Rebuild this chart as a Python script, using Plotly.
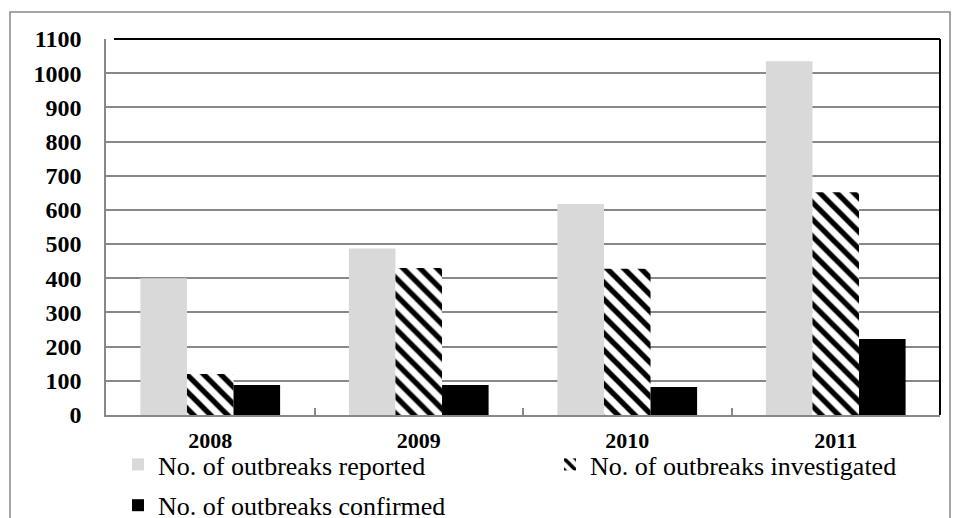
import plotly.graph_objects as go

years = ["2008", "2009", "2010", "2011"]
reported = [400, 487, 617, 1035]
investigated = [120, 430, 428, 652]
confirmed = [88, 88, 82, 222]
y_ticks = list(range(0, 1101, 100))

W, H = 956, 518
L, R, T, B = 106, 16, 39, 103
pw, ph = W - L - R, H - T - B

font = "Liberation Serif"

fig = go.Figure()
fig.add_trace(go.Bar(x=years, y=reported, name="No. of outbreaks reported",
                     legend="legend", legendgroup="a",
                     marker=dict(color="#d9d9d9", line=dict(width=0))))
fig.add_trace(go.Bar(x=years, y=investigated, name="No. of outbreaks investigated",
                     legend="legend2", legendgroup="b",
                     marker=dict(color="white", line=dict(width=0),
                                 pattern=dict(shape="\\", fgcolor="black", bgcolor="white",
                                              size=12, solidity=0.45, fillmode="replace"))))
fig.add_trace(go.Bar(x=years, y=confirmed, name="No. of outbreaks confirmed",
                     legend="legend", legendgroup="c",
                     marker=dict(color="black", line=dict(width=0))))

legend_font = dict(size=26, family=font, color="black")
ytick_font = dict(size=24, family=font, color="black", weight="bold")
xtick_font = dict(size=22, family=font, color="black", weight="bold")

fig.update_layout(
    width=W, height=H,
    margin=dict(l=L, r=R, t=T, b=B, autoexpand=False),
    paper_bgcolor="white", plot_bgcolor="white",
    barmode="group", bargap=0.33, bargroupgap=0,
    font=dict(family=font, color="black"),
    showlegend=True,
    legend=dict(orientation="v", xref="container", yref="container",
                x=118 / W, xanchor="left", y=1 - 441 / H, yanchor="top",
                font=legend_font, itemwidth=30, traceorder="grouped",
                tracegroupgap=4, bgcolor="rgba(0,0,0,0)"),
    legend2=dict(orientation="v", xref="container", yref="container",
                 x=550 / W, xanchor="left", y=1 - 441 / H, yanchor="top",
                 font=legend_font, itemwidth=30, bgcolor="rgba(0,0,0,0)"),
    xaxis=dict(tickfont=xtick_font, automargin=False,
               showline=True, linecolor="#888888", linewidth=1.5,
               ticks="inside", tickson="boundaries", ticklen=7, tickcolor="#888888",
               tickwidth=1.5, ticklabelstandoff=5, showgrid=False),
    yaxis=dict(range=[0, 1100], tickvals=y_ticks, tickfont=ytick_font, automargin=False,
               showline=True, linecolor="#888888", linewidth=1.5,
               showgrid=True, gridcolor="#888888", gridwidth=1.5,
               ticks="", ticklabelstandoff=18, zeroline=False),
)

# outer frame around the chart
fig.add_shape(type="rect", xref="paper", yref="paper",
              x0=(10 - L) / pw, x1=(950 - L) / pw,
              y0=-(530 - T - ph) / ph, y1=1 + (T - 12) / ph,
              line=dict(color="#888888", width=1.5), fillcolor="rgba(0,0,0,0)", layer="below")
# black top and right border of the plot area
fig.add_shape(type="line", xref="paper", yref="paper", x0=(114 - L) / pw, x1=1, y0=1, y1=1,
              line=dict(color="black", width=2))
fig.add_shape(type="line", xref="paper", yref="paper", x0=1, x1=1, y0=0, y1=1,
              line=dict(color="black", width=2))

fig.write_html("out.html")
